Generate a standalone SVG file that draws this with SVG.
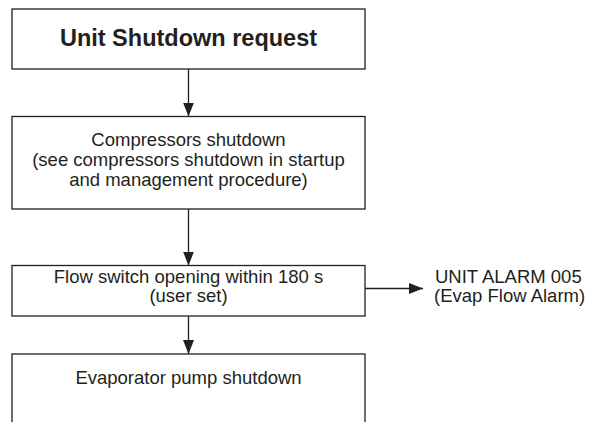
<svg xmlns="http://www.w3.org/2000/svg" width="589" height="422" viewBox="0 0 589 422">
<defs>
<style>
.box{fill:#fff;stroke:#231f20;stroke-width:1.3}
.t{font-family:"Liberation Sans",Arial,sans-serif;font-size:18.5px;fill:#231f20;text-anchor:middle}
.b{font-weight:bold;font-size:23.5px}
.l{text-anchor:start}
.c{stroke:#231f20;stroke-width:1.3;fill:none}
</style>
<marker id="ah" viewBox="0 0 14 11" refX="14" refY="5.5" markerWidth="14" markerHeight="11" markerUnits="userSpaceOnUse" orient="auto">
<path d="M0,0 L14,5.5 L0,11 Z" fill="#231f20"/>
</marker>
</defs>
<rect width="589" height="422" fill="#fff"/>
<g id="connectors">
<line class="c" x1="188.5" y1="69" x2="188.5" y2="116.5" marker-end="url(#ah)"/>
<line class="c" x1="188.5" y1="209" x2="188.5" y2="265.5" marker-end="url(#ah)"/>
<line class="c" x1="188.5" y1="316" x2="188.5" y2="354" marker-end="url(#ah)"/>
<line class="c" x1="365" y1="288.5" x2="423" y2="288.5" marker-end="url(#ah)"/>
</g>
<g id="n1">
<rect class="box" x="12" y="9" width="353" height="60"/>
<text class="t b" x="188.5" y="46">Unit Shutdown request</text>
</g>
<g id="n2">
<rect class="box" x="12" y="116.5" width="353" height="92.5"/>
<text class="t" x="188.5" y="146">Compressors shutdown</text>
<text class="t" x="188.5" y="166">(see compressors shutdown in startup</text>
<text class="t" x="188.5" y="186">and management procedure)</text>
</g>
<g id="n3">
<rect class="box" x="12" y="265.5" width="353" height="50.5"/>
<text class="t" x="188.5" y="283">Flow switch opening within 180 s</text>
<text class="t" x="188.5" y="302">(user set)</text>
</g>
<g id="n4">
<rect class="box" x="12" y="354" width="353" height="80"/>
<text class="t" x="188.5" y="384">Evaporator pump shutdown</text>
</g>
<g id="n5">
<text class="t l" x="435" y="283">UNIT ALARM 005</text>
<text class="t l" x="434" y="302">(Evap Flow Alarm)</text>
</g>
</svg>
